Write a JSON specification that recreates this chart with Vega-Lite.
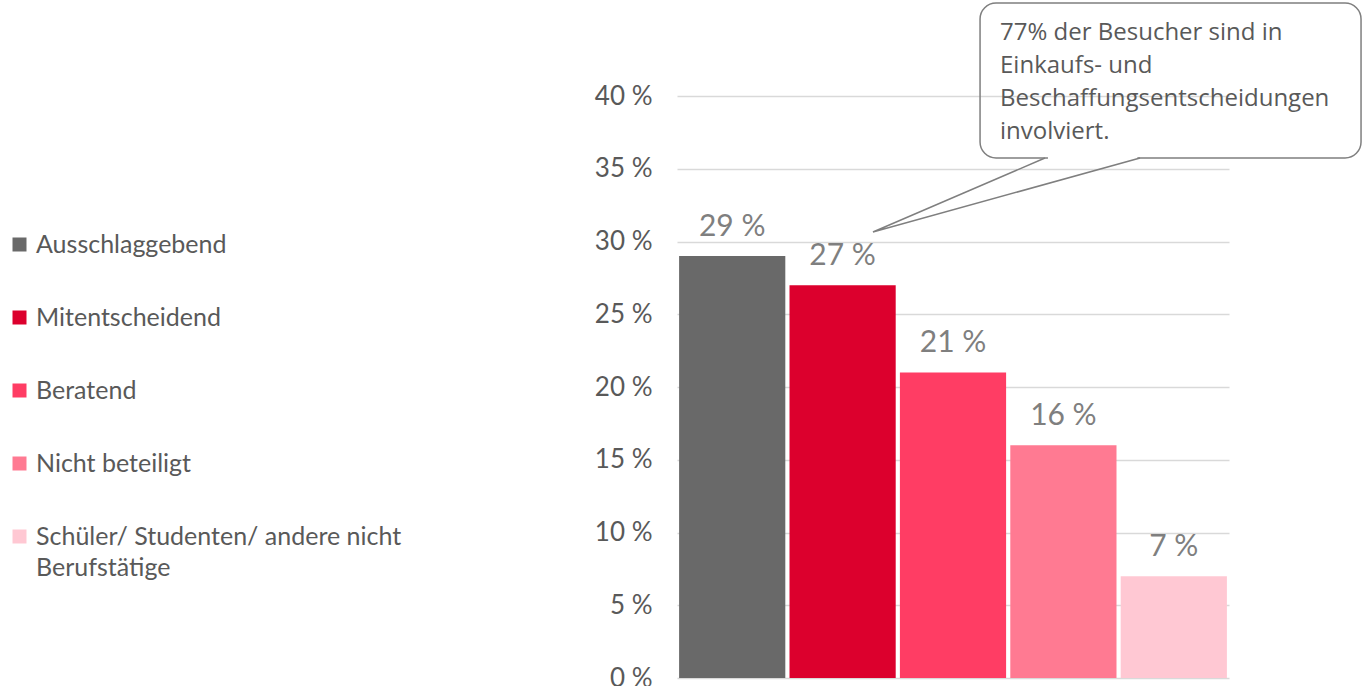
{
  "$schema": "https://vega.github.io/schema/vega-lite/v6.json",
  "width": 552,
  "height": 582,
  "autosize": {"type": "none"},
  "padding": {"left": 677, "top": 96, "right": 133, "bottom": 8},
  "config": {
    "view": {"stroke": null},
    "font": "Lato",
    "axisY": {"title": null},
    "style": {"guide-label": {"lineHeight": 31}}
  },
  "datasets": {
    "bars": [
      {"kategorie": "Ausschlaggebend", "anteil": 29},
      {"kategorie": "Mitentscheidend", "anteil": 27},
      {"kategorie": "Beratend", "anteil": 21},
      {"kategorie": "Nicht beteiligt", "anteil": 16},
      {"kategorie": "Schüler/ Studenten/ andere nicht Berufstätige", "anteil": 7}
    ],
    "box": [{"x1": 2.745, "x2": 6.196, "y1": 35.74, "y2": 46.39}],
    "gap": [{"x1": 3.36, "x2": 4.17, "y": 35.74}],
    "tail": [
      {"pt": 1, "x": 3.333, "y": 35.74},
      {"pt": 2, "x": 1.775, "y": 30.65},
      {"pt": 3, "x": 4.194, "y": 35.74}
    ],
    "note": [{"x": 2.926, "y": 43.85, "text": "77% der Besucher sind in\nEinkaufs- und\nBeschaffungsentscheidungen\ninvolviert."}]
  },
  "layer": [
    {
      "data": {"name": "bars"},
      "mark": {"type": "bar"},
      "encoding": {
        "x": {"field": "kategorie", "type": "nominal", "sort": null, "axis": null,
              "scale": {"paddingInner": 0.038, "paddingOuter": 0.019}},
        "y": {"field": "anteil", "type": "quantitative", "title": null,
              "scale": {"domain": [0, 40], "nice": false},
              "axis": {"values": [0, 5, 10, 15, 20, 25, 30, 35, 40], "labelExpr": "datum.value + ' %'",
                       "grid": true, "gridColor": "#d9d9d9", "gridWidth": 1.5, "domain": false, "ticks": false,
                       "labelFontSize": 26, "labelColor": "#595959", "labelPadding": 25, "labelFont": "Lato"}},
        "color": {"field": "kategorie", "type": "nominal",
                  "scale": {"domain": ["Ausschlaggebend", "Mitentscheidend", "Beratend", "Nicht beteiligt", "Schüler/ Studenten/ andere nicht Berufstätige"],
                            "range": ["#696969", "#dc002d", "#ff3d64", "#ff7a92", "#ffc8d3"]},
                  "legend": {"orient": "none", "legendX": -670, "legendY": 136, "title": null,
                             "symbolType": "square", "symbolSize": 196, "symbolStrokeWidth": 0,
                             "labelFontSize": 25, "labelColor": "#595959", "labelFont": "Lato",
                             "rowPadding": 47, "labelOffset": 4, "labelLimit": 600,
                             "labelExpr": "datum.label == 'Schüler/ Studenten/ andere nicht Berufstätige' ? ['Schüler/ Studenten/ andere nicht', 'Berufstätige'] : datum.label",
                             "encoding": {"labels": {"update": {"lineHeight": {"value": 31}}}}}}
      }
    },
    {
      "data": {"name": "bars"},
      "mark": {"type": "text", "baseline": "alphabetic", "dy": -20, "fontSize": 30, "color": "#7f7f7f", "font": "Lato",
               "text": {"expr": "datum.anteil + ' %'"}},
      "encoding": {
        "x": {"field": "kategorie", "type": "nominal", "sort": null, "axis": null,
              "scale": {"paddingInner": 0.038, "paddingOuter": 0.019}},
        "y": {"field": "anteil", "type": "quantitative", "title": null, "scale": {"domain": [0, 40], "nice": false}}
      }
    },
    {
      "data": {"name": "box"},
      "mark": {"type": "rect", "cornerRadius": 16, "fill": null, "fillOpacity": 0, "stroke": "#7f7f7f", "strokeWidth": 1.5},
      "encoding": {
        "x": {"field": "x1", "type": "quantitative", "axis": null, "scale": {"domain": [0, 5], "nice": false, "zero": false}},
        "x2": {"field": "x2"},
        "y": {"field": "y1", "type": "quantitative", "title": null, "scale": {"domain": [0, 40], "nice": false}},
        "y2": {"field": "y2"}
      }
    },
    {
      "data": {"name": "gap"},
      "mark": {"type": "rule", "stroke": "white", "strokeWidth": 4},
      "encoding": {
        "x": {"field": "x1", "type": "quantitative", "axis": null, "scale": {"domain": [0, 5], "nice": false, "zero": false}},
        "x2": {"field": "x2"},
        "y": {"field": "y", "type": "quantitative", "title": null, "scale": {"domain": [0, 40], "nice": false}}
      }
    },
    {
      "data": {"name": "tail"},
      "mark": {"type": "line", "stroke": "#7f7f7f", "strokeWidth": 1.5},
      "encoding": {
        "x": {"field": "x", "type": "quantitative", "axis": null, "scale": {"domain": [0, 5], "nice": false, "zero": false}},
        "y": {"field": "y", "type": "quantitative", "title": null, "scale": {"domain": [0, 40], "nice": false}},
        "order": {"field": "pt", "type": "quantitative"}
      }
    },
    {
      "data": {"name": "note"},
      "mark": {"type": "text", "align": "left", "baseline": "alphabetic", "lineBreak": "\n", "lineHeight": 33, "fontSize": 24, "color": "#595959", "font": "Open Sans"},
      "encoding": {
        "x": {"field": "x", "type": "quantitative", "axis": null, "scale": {"domain": [0, 5], "nice": false, "zero": false}},
        "y": {"field": "y", "type": "quantitative", "title": null, "scale": {"domain": [0, 40], "nice": false}},
        "text": {"field": "text", "type": "nominal"}
      }
    }
  ],
  "resolve": {"scale": {"x": "independent"}}
}
